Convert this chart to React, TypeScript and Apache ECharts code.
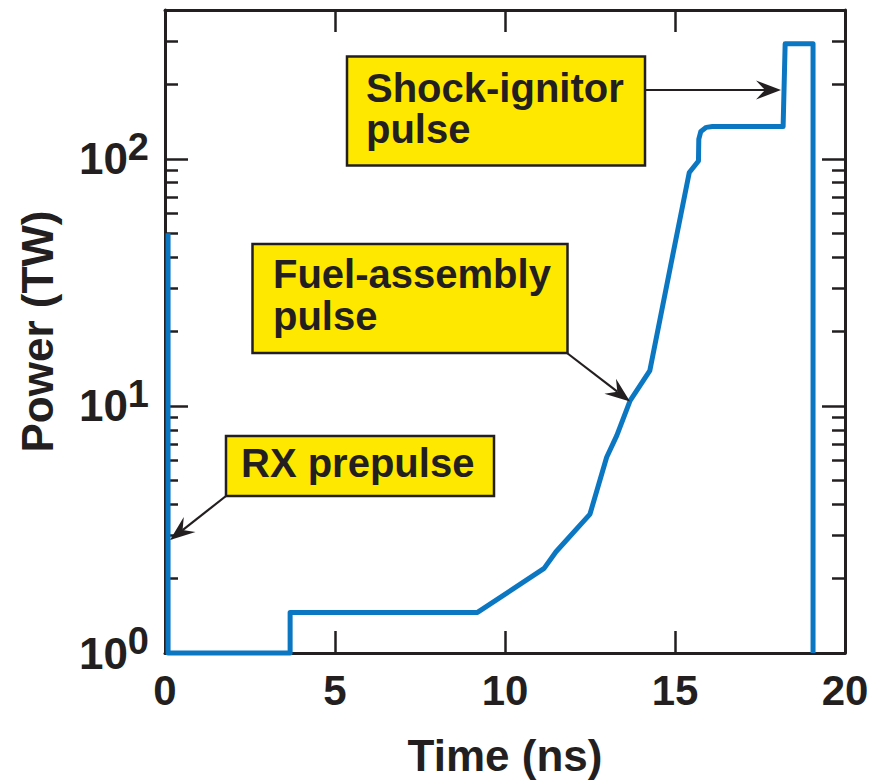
import React, { useEffect, useRef } from 'react';
import * as echarts from 'echarts';

// Pulse shape
const timeNs = [0.09, 0.09, 3.68, 3.68, 9.19, 11.15, 11.5, 12.5, 12.99, 13.29, 13.68, 14.26, 14.93, 15.42, 15.69, 15.7, 15.76, 15.92, 16.1, 18.18, 18.24, 19.06, 19.06];
const powerTW = [50, 1, 1, 1.46, 1.46, 2.2, 2.57, 3.65, 6.2, 7.6, 10.5, 13.9, 40.5, 88, 98, 120, 129, 134, 135, 135, 292, 292, 1];

const xTicks = [0, 5, 10, 15, 20];
const yMajorTicks = [1, 10, 100];
const yMinorTicks = [2, 3, 4, 5, 6, 7, 8, 9, 20, 30, 40, 50, 60, 70, 80, 90, 200, 300];

const annotationTexts = ['Shock-ignitor\npulse', 'Fuel-assembly\npulse', 'RX prepulse'];

const FONT = '"Liberation Sans", Arial, Helvetica, sans-serif';
const INK = '#231f20';
const BLUE = '#0b77c2';
const YELLOW = '#ffe800';

function arrow(x1: number, y1: number, x2: number, y2: number) {
  const dx = x2 - x1, dy = y2 - y1;
  const L = Math.hypot(dx, dy);
  const ux = dx / L, uy = dy / L;
  const px = -uy, py = ux;
  const len = 25, hw = 9.5, notch = 16;
  const bx = x2 - ux * len, by = y2 - uy * len;
  const nx = x2 - ux * notch, ny = y2 - uy * notch;
  return [
    { type: 'line', shape: { x1, y1, x2: nx, y2: ny }, style: { stroke: INK, lineWidth: 2.2 }, z: 10 },
    {
      type: 'polygon',
      shape: { points: [[x2, y2], [bx + px * hw, by + py * hw], [nx, ny], [bx - px * hw, by - py * hw]] },
      style: { fill: INK },
      z: 10,
    },
  ];
}

function box(x: number, y: number, w: number, h: number, tx: number, ty: number, text: string, lh: number) {
  return [
    { type: 'rect', shape: { x, y, width: w, height: h }, style: { fill: YELLOW, stroke: INK, lineWidth: 2.5 }, z: 10 },
    {
      type: 'text',
      x: tx,
      y: ty,
      z: 11,
      style: {
        text,
        fontFamily: FONT,
        fontWeight: 'bold',
        fontSize: 40,
        lineHeight: lh,
        fill: INK,
        align: 'left',
        verticalAlign: 'top',
      },
    },
  ];
}

const yLog = (position: 'left' | 'right', major: boolean, withLabels: boolean) => ({
  type: 'log',
  logBase: 10,
  min: 1,
  max: 400,
  position,
  axisLine: { show: major, lineStyle: { color: INK, width: 3 } },
  splitLine: { show: false },
  axisTick: {
    show: true,
    inside: true,
    length: major ? 23 : 13,
    lineStyle: { color: INK, width: 2.5 },
    customValues: major ? yMajorTicks : yMinorTicks,
  },
  axisLabel: withLabels
    ? {
        show: true,
        margin: 16,
        customValues: yMajorTicks,
        formatter: (v: number) => `{b|10}{s|${Math.round(Math.log10(v))}}`,
        rich: {
          b: { fontSize: 44, fontWeight: 'bold', fontFamily: FONT, color: INK, lineHeight: 44 },
          s: { fontSize: 38, fontWeight: 'bold', fontFamily: FONT, color: INK, lineHeight: 38, padding: [0, 0, 24, 0] },
        },
      }
    : { show: false },
  ...(withLabels
    ? {
        name: 'Power (TW)',
        nameLocation: 'middle',
        nameGap: 106,
        nameTextStyle: { fontSize: 44, fontWeight: 'bold', fontFamily: FONT, color: INK, lineHeight: 44 },
      }
    : {}),
});

const xLin = (position: 'bottom' | 'top', withLabels: boolean) => ({
  type: 'value',
  min: xTicks[0],
  max: xTicks[xTicks.length - 1],
  interval: 5,
  position,
  axisLine: { show: true, onZero: false, lineStyle: { color: INK, width: 3 } },
  splitLine: { show: false },
  axisTick: { show: true, inside: true, length: 22, lineStyle: { color: INK, width: 2.5 } },
  axisLabel: withLabels
    ? { show: true, margin: 16, fontSize: 42, fontWeight: 'bold', fontFamily: FONT, color: INK, lineHeight: 42 }
    : { show: false },
  ...(withLabels
    ? {
        name: 'Time (ns)',
        nameLocation: 'middle',
        nameGap: 80,
        nameTextStyle: { fontSize: 44, fontWeight: 'bold', fontFamily: FONT, color: INK, lineHeight: 44 },
      }
    : {}),
});

export default function App() {
  const ref = useRef<HTMLDivElement>(null);
  useEffect(() => {
    if (!ref.current) return;
    const chart = echarts.init(ref.current, undefined, { renderer: 'svg' });
    const data = timeNs.map((t, i) => [t, powerTW[i]]);
    chart.setOption({
      animation: false,
      backgroundColor: '#ffffff',
      grid: { left: 165, right: 31, top: 10, bottom: 127, containLabel: false },
      xAxis: [xLin('bottom', true), xLin('top', false)],
      yAxis: [yLog('left', true, true), yLog('left', false, false), yLog('right', true, false), yLog('right', false, false)],
      series: [
        {
          type: 'line',
          data,
          xAxisIndex: 0,
          yAxisIndex: 0,
          symbol: 'none',
          clip: false,
          z: 5,
          lineStyle: { color: BLUE, width: 5, join: 'round', cap: 'butt' },
        },
      ],
      graphic: [
        ...box(347, 56.5, 298, 109, 366, 67.3, annotationTexts[0], 41),
        ...arrow(645, 90, 781, 90),
        ...box(252.5, 244, 315, 109, 273, 253.4, annotationTexts[1], 42),
        ...arrow(567, 353, 630, 401.5),
        ...box(226, 436, 268, 60, 241, 442.8, annotationTexts[2], 40),
        ...arrow(226, 496, 170, 540),
      ],
    });
    return () => chart.dispose();
  }, []);
  return <div ref={ref} style={{ position: 'fixed', left: 0, top: 0, width: 876, height: 782 }} />;
}
